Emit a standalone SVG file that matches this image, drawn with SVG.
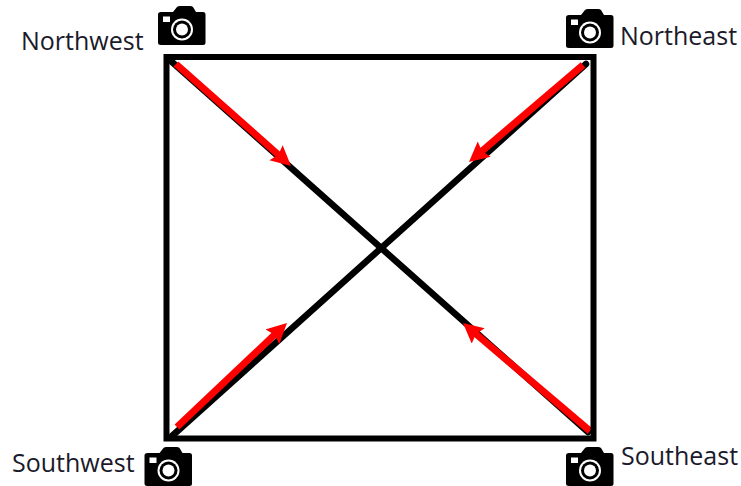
<svg xmlns="http://www.w3.org/2000/svg" xmlns:xlink="http://www.w3.org/1999/xlink" width="741" height="486" viewBox="0 0 741 486">
<style>
.lbl{font-family:"Open Sans","Noto Sans","Liberation Sans",sans-serif;font-size:25px;fill:#1a1a2a}
.blk{stroke:#000;stroke-width:6.500;fill:none;stroke-linecap:round}
.red{stroke:#f00;stroke-width:7;fill:none;marker-end:url(#ah)}
</style>
<defs>
<marker id="ah" markerUnits="userSpaceOnUse" markerWidth="22" markerHeight="22" refX="5" refY="10" orient="auto">
<path d="M0 0L20 10L0 20L3 10Z" fill="#f00"/>
</marker>
<symbol id="cam" overflow="visible">
<path fill-rule="evenodd" d="M3 6H15L19 1Q20 0 22 0H32Q34 0 35 1L38 6H45Q47.500 6 47.500 8.500V36.500Q47.500 39 45 39H3Q0 39 0 36.500V8.500Q0 6 3 6ZM5 10.500V16H12V10.500Z" fill="#000"/>
<circle cx="24" cy="23.500" r="11" fill="#fff"/>
<circle cx="24" cy="23.500" r="9" fill="#000"/>
<circle cx="24" cy="23.500" r="6" fill="#fff"/>
</symbol>
</defs>
<rect width="741" height="486" fill="#fff"/>
<g id="connectors">
<line class="blk" x1="172" y1="62" x2="588" y2="432"/>
<line class="blk" x1="586" y1="64" x2="172" y2="436"/>
<line class="red" x1="176" y1="64" x2="279.800" y2="156"/>
<line class="red" x1="583" y1="65" x2="480.400" y2="152.300"/>
<line class="red" x1="177" y1="427" x2="276.100" y2="333.300"/>
<line class="red" x1="590" y1="431" x2="474.400" y2="332.700"/>
</g>
<g id="frame"><rect x="166.500" y="57" width="427" height="381.500" fill="none" stroke="#000" stroke-width="6"/></g>
<g id="northwest"><use xlink:href="#cam" href="#cam" x="158" y="6"/><text class="lbl" x="21" y="50">Northwest</text></g>
<g id="northeast"><use xlink:href="#cam" href="#cam" x="566" y="9"/><text class="lbl" x="620" y="45">Northeast</text></g>
<g id="southwest"><use xlink:href="#cam" href="#cam" x="144.500" y="447"/><text class="lbl" x="12" y="472">Southwest</text></g>
<g id="southeast"><use xlink:href="#cam" href="#cam" x="566" y="447"/><text class="lbl" x="621" y="465">Southeast</text></g>
</svg>
